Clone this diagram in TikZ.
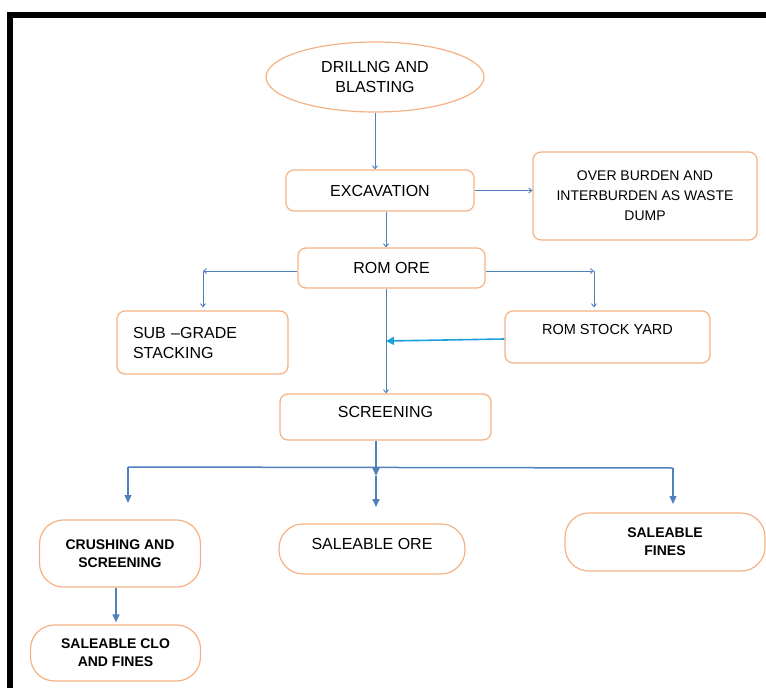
\documentclass[tikz,border=0pt]{standalone}
\usepackage{fontspec}
\setmainfont{Liberation Sans}
\usetikzlibrary{shapes.geometric,arrows.meta}
\definecolor{boxc}{RGB}{244,177,131}
\definecolor{arrc}{RGB}{79,129,189}
\definecolor{cyanc}{RGB}{28,160,220}
\newcommand{\fsz}[2]{\fontsize{#1}{#2}\selectfont}
\begin{document}
\begin{tikzpicture}[x=1pt, y=-1pt]
\tikzstyle{every node}=[draw=boxc, line width=1.2pt, rounded corners=8pt, inner sep=0pt, align=center, font=\fsz{16}{20}]
\tikzstyle{pill}=[rounded corners=24pt, font=\fsz{14}{18}\bfseries]
\tikzstyle{flow}=[draw=arrc, line width=0.9pt, -{Straight Barb[length=3pt,width=5pt]}]
\tikzstyle{fat}=[draw=arrc, line width=1.5pt, -{Triangle[length=8pt,width=7pt]}]
\clip (0,0) rectangle (766,688);
\draw[line width=6pt] (10,720) -- (10,14.5) -- (800,14.5);

\node(drill)[ellipse, rounded corners=0pt, minimum width=218pt, minimum height=70pt] at (375, 77) {DRILLNG AND\\BLASTING};
\node(exc)  [minimum width=188pt, minimum height=41pt] at (380, 190.5) {EXCAVATION};
\node(waste)[minimum width=224pt, minimum height=88pt, font=\fsz{14}{20}] at (645, 196) {OVER BURDEN AND\\INTERBURDEN AS WASTE\\DUMP};
\node(rom)  [minimum width=187pt, minimum height=40pt] at (391.5, 268) {ROM ORE};
\node(sub)  [minimum width=171pt, minimum height=63pt, text width=139pt, align=left] at (202.5, 342.5) {SUB --GRADE\\STACKING};
\node(yard) [minimum width=205pt, minimum height=52pt, font=\fsz{14.5}{18}, text height=12pt, text depth=18pt] at (607.5, 337) {ROM STOCK YARD};
\node(scr)  [minimum width=211pt, minimum height=46pt, text height=12pt, text depth=12pt] at (385.5, 417) {SCREENING};
\node(crush)[pill, minimum width=161pt, minimum height=67pt] at (120, 553.5) {CRUSHING AND\\SCREENING};
\node(ore)  [pill, font=\fsz{16}{20}, minimum width=186pt, minimum height=50pt, text height=12pt, text depth=12pt] at (372, 549) {SALEABLE ORE};
\node(fines)[pill, minimum width=200pt, minimum height=58pt] at (665, 542) {SALEABLE\\FINES};
\node(clo)  [pill, minimum width=170pt, minimum height=56pt] at (115.5, 653) {SALEABLE CLO\\AND FINES};

\coordinate(cl) at (203, 271);
\coordinate(cr) at (594, 271);
\coordinate(cj) at (386, 341);
\coordinate(cm) at (376, 476);
\coordinate(cL) at (128, 467);
\coordinate(cR) at (673, 468);
\coordinate(tL) at (128, 503);
\coordinate(tM) at (376, 507);
\coordinate(tR) at (673, 504);

\draw[flow] (drill.south) -- (drill.south |- exc.north);
\draw[flow] (exc.east) -- (exc.east -| waste.west);
\draw[flow] ([xshift=6pt]exc.south) -- ([xshift=6pt]exc.south |- rom.north);
\draw[flow] ([yshift=-3pt]rom.west) -- (cl);
\draw[flow] (cl) -- ([yshift=3pt]cl |- sub.north);
\draw[flow] ([yshift=-3pt]rom.east) -- (cr);
\draw[flow] (cr) -- ([yshift=3pt]cr |- yard.north);
\draw[flow] (rom.south -| cj) -- (scr.north -| cj);
\draw[draw=cyanc, line width=1.6pt, -{Triangle[length=8pt,width=8pt]}] ([yshift=-2pt]yard.west) -- (cj);

\draw[draw=arrc, line width=1.5pt] (cL) -- (cR);
\draw[fat] (scr.south -| cm) -- (cm);
\draw[fat] (cm) -- (tM);
\draw[fat] (cL) -- (tL);
\draw[fat] (cR) -- (tR);
\draw[fat] ([xshift=-4pt]crush.south) -- ([xshift=-4pt, yshift=2pt]crush.south |- clo.north);

\end{tikzpicture}
\end{document}
